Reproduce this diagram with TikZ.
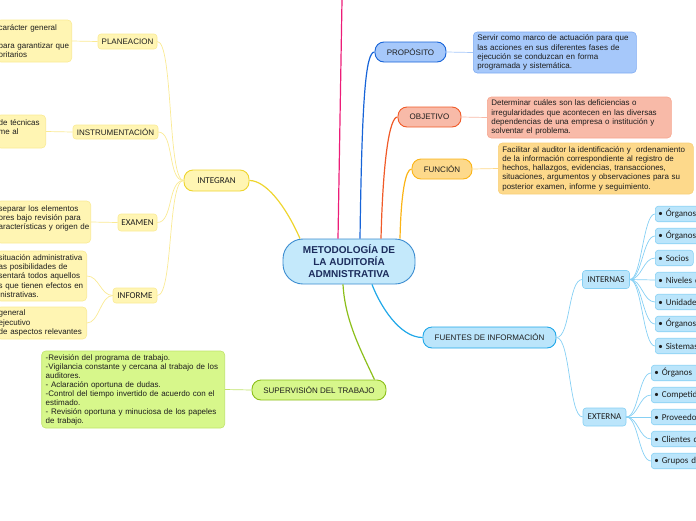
\documentclass[tikz,border=0pt]{standalone}
\usepackage{fontspec}
\setmainfont{Liberation Sans}
\newfontfamily\carlito{Carlito}

% colores del mapa
\definecolor{centrofill}{HTML}{C4E9FB}
\definecolor{centrodraw}{HTML}{3B8CD0}
\definecolor{rosa}{HTML}{EC1C78}
\definecolor{azul}{HTML}{1764D8}
\definecolor{azulfill}{HTML}{A6C8FA}
\definecolor{azulclaro}{HTML}{7EABF2}
\definecolor{naranja}{HTML}{F05A28}
\definecolor{naranjafill}{HTML}{F8BAA8}
\definecolor{naranjaclaro}{HTML}{F6A58E}
\definecolor{oro}{HTML}{FBB416}
\definecolor{orofill}{HTML}{FDD98B}
\definecolor{oroclaro}{HTML}{F8CF78}
\definecolor{amarillo}{HTML}{EED52E}
\definecolor{amarillofill}{HTML}{FFF5B3}
\definecolor{amarilloclaro}{HTML}{FAEA94}
\definecolor{verde}{HTML}{8CBF1A}
\definecolor{verdefill}{HTML}{D7F78B}
\definecolor{verdeclaro}{HTML}{C0E46A}
\definecolor{celeste}{HTML}{1FA7E8}
\definecolor{celestefill}{HTML}{BBE5FB}
\definecolor{celesteclaro}{HTML}{86D0F4}
\definecolor{texto}{HTML}{1E1E1E}
\definecolor{titulo}{HTML}{1B2C5C}

\begin{document}
\begin{tikzpicture}[x=1pt, y=-1pt, text=texto,
    rama/.style={draw, rounded corners=9pt, line width=0.9pt, inner sep=0pt, minimum height=20pt, font=\fontsize{8}{9.6}\selectfont},
    hoja/.style={draw, rounded corners=4pt, line width=0.6pt, align=left, inner xsep=4pt, inner ysep=2pt, font=\fontsize{8}{9.2}\selectfont},
    corte/.style={hoja, anchor=east, inner xsep=2pt, draw=amarilloclaro, fill=amarillofill},
    sub/.style={draw, rounded corners=3pt, line width=0.6pt, inner sep=0pt, font=\fontsize{8}{9.6}\selectfont},
    punto/.style={sub, anchor=west, align=left, inner xsep=3pt, minimum height=15.5pt, draw=celesteclaro, fill=celestefill, font=\carlito\fontsize{9}{10}\selectfont},
    enlace/.style={line width=1.2pt},
    fino/.style={line width=0.7pt}]
    \useasboundingbox (0,0) rectangle (696,520);
    \clip (0,0) rectangle (696,520);

    % nodo central
    \node[draw=centrodraw, fill=centrofill, rounded corners=20pt, line width=0.9pt, minimum width=132pt, minimum height=45pt, align=center, text=titulo, font=\bfseries\fontsize{10}{12}\selectfont] (centro) at (349,261.5) {METODOLOGÍA DE\\LA AUDITORÍA\\ADMNISTRATIVA};
    \coordinate (arriba) at (342,0);

    % ramas de la derecha
    \node[rama, draw=azul, fill=azulfill, minimum width=71pt] (proposito) at (410.5,52) {PROPÓSITO};
    \node[hoja, draw=azulclaro, fill=azulfill, anchor=west, text width=155pt, minimum height=41pt] (txtproposito) at (473,52.5) {Servir como marco de actuación para que\\las acciones en sus diferentes fases de\\ejecución se conduzcan en forma\\programada y sistemática.};

    \node[rama, draw=naranja, fill=naranjafill, minimum width=63pt] (objetivo) at (429.5,117) {OBJETIVO};
    \node[hoja, draw=naranjaclaro, fill=naranjafill, anchor=west, text width=176pt, minimum height=41pt] (txtobjetivo) at (487,117.5) {Determinar cuáles son las deficiencias o\\irregularidades que acontecen en las diversas\\dependencias de una empresa o institución y\\solventar el problema.};

    \node[rama, draw=oro, fill=orofill, minimum width=60pt] (funcion) at (442,169) {FUNCIÓN};
    \node[hoja, draw=oroclaro, fill=orofill, anchor=west, text width=187pt, minimum height=51pt] (txtfuncion) at (498,168.5) {Facilitar al auditor la identificación y\ \ ordenamiento\\de la información correspondiente al registro de\\hechos, hallazgos, evidencias, transacciones,\\situaciones, argumentos y observaciones para su\\posterior examen, informe y seguimiento.};

    \node[rama, draw=celeste, fill=celestefill, minimum width=133pt, minimum height=21pt] (fuentes) at (489.5,337.5) {FUENTES DE INFORMACIÓN};
    \node[sub, draw=celesteclaro, fill=celestefill, minimum width=47pt, minimum height=18pt, font=\carlito\fontsize{9}{10}\selectfont] (internas) at (606,279.5) {INTERNAS};
    \node[sub, draw=celesteclaro, fill=celestefill, minimum width=43pt, minimum height=18pt, font=\carlito\fontsize{9}{10}\selectfont] (externa) at (604.5,417) {EXTERNA};

    \node[punto, text width=60pt] (organosa) at (655,214) {• Órganos};
    \node[punto, text width=60pt] (organosb) at (655,236) {• Órganos};
    \node[punto, text width=32pt] (socios) at (655,258) {• Socios};
    \node[punto, text width=60pt] (niveles) at (655,280) {• Niveles d};
    \node[punto, text width=60pt] (unidades) at (655,302) {• Unidade};
    \node[punto, text width=60pt] (organosc) at (655,324) {• Órganos};
    \node[punto, text width=60pt] (sistemas) at (655,346) {• Sistemas};

    \node[punto, text width=60pt] (organosd) at (651,373) {• Órganos};
    \node[punto, text width=60pt] (competidores) at (651,395) {• Competid};
    \node[punto, text width=60pt] (proveedores) at (651,417) {• Proveedo};
    \node[punto, text width=60pt] (clientes) at (651,439) {• Clientes d};
    \node[punto, text width=60pt] (grupos) at (651,461) {• Grupos d};

    % ramas de la izquierda
    \node[rama, draw=amarillo, fill=amarillofill, minimum width=65pt, minimum height=21pt, font=\carlito\fontsize{9}{10}\selectfont] (integran) at (216.5,180.5) {INTEGRAN};

    \node[sub, draw=amarilloclaro, fill=amarillofill, minimum width=59pt, minimum height=15pt] (planeacion) at (127.5,41.5) {PLANEACION};
    \node[corte, text width=71pt, minimum height=42pt] (txtplaneacion) at (72,41) {carácter general\\ \mbox{}\\ para garantizar que\\ oritarios};

    \node[sub, draw=amarilloclaro, fill=amarillofill, minimum width=85pt, minimum height=14pt] (instrumentacion) at (115.5,132) {INSTRUMENTACIÓN};
    \node[corte, text width=45pt, minimum height=33pt] (txtinstrumentacion) at (46,131.5) {de técnicas\\ me al\\ \mbox{}};

    \node[sub, draw=amarilloclaro, fill=amarillofill, minimum width=39pt, minimum height=17pt, font=\carlito\fontsize{9}{10}\selectfont] (examen) at (137.5,222.5) {EXAMEN};
    \node[corte, text width=90pt, minimum height=42pt] (txtexamen) at (91,222) {separar los elementos\\ ores bajo revisión para\\ \mbox{aracterísticas y origen de}\\ \mbox{}};

    \node[sub, draw=amarilloclaro, fill=amarillofill, minimum width=44pt, minimum height=15pt, font=\carlito\fontsize{9}{10}\selectfont] (informe) at (135,295.5) {INFORME};
    \node[corte, text width=86pt, minimum height=50pt] (txtinforme) at (87,276) {situación administrativa\\ as posibilidades de\\ sentará todos aquellos\\ s que tienen efectos en\\ inistrativas.};
    \node[corte, text width=86pt, minimum height=32pt] (txtinformeb) at (87,323) {general\\ ejecutivo\\ de aspectos relevantes};

    \node[rama, draw=verde, fill=verdefill, minimum width=134pt] (supervision) at (319,390) {SUPERVISIÓN DEL TRABAJO};
    \node[hoja, draw=verdeclaro, fill=verdefill, anchor=east, text width=175pt, minimum height=77pt, font=\fontsize{8}{9}\selectfont] (txtsupervision) at (225,389.5) {-Revisión del programa de trabajo.\\-Vigilancia constante y cercana al trabajo de los\\auditores.\\- Aclaración oportuna de dudas.\\-Control del tiempo invertido de acuerdo con el\\estimado.\\- Revisión oportuna y minuciosa de los papeles\\de trabajo.};

    % enlaces desde el centro
    \draw[enlace, rosa] ([xshift=-11pt]centro.north) -- (arriba);
    \draw[enlace, azul] ([xshift=11pt]centro.north) .. controls +(2,-140) and +(-9,0) .. (proposito.west);
    \draw[enlace, naranja] ([xshift=32pt]centro.north) .. controls +(2,-80) and +(-8,0) .. (objetivo.west);
    \draw[enlace, oro] ([xshift=51pt]centro.north) .. controls +(1,-45) and +(-6,0) .. (funcion.west);
    \draw[enlace, amarillo] ([xshift=-49pt]centro.north) .. controls +(-15,-34) and +(16,0) .. (integran.east);
    \draw[enlace, verde] ([xshift=-6pt]centro.south) .. controls +(2,36) and +(-14,-30) .. ([xshift=-12pt]supervision.north east);
    \draw[enlace, celeste] ([xshift=23pt]centro.south) .. controls +(8,21) and +(-23,0) .. (fuentes.west);

    % enlaces secundarios
    \draw[fino, azulfill] (proposito.east) -- (txtproposito.west);
    \draw[fino, naranjafill] (objetivo.east) -- (txtobjetivo.west);
    \draw[fino, orofill] (funcion.east) -- (txtfuncion.west);
    \draw[fino, verdeclaro] (supervision.west) -- (txtsupervision.east);

    \draw[fino, celesteclaro] (fuentes.east) .. controls +(14,0) and +(-14,0) .. (internas.west);
    \draw[fino, celesteclaro] (fuentes.east) .. controls +(14,0) and +(-14,0) .. (externa.west);
    \draw[fino, celesteclaro] (internas.east) .. controls +(12,0) and +(-12,0) .. (organosa.west);
    \draw[fino, celesteclaro] (internas.east) .. controls +(12,0) and +(-12,0) .. (organosb.west);
    \draw[fino, celesteclaro] (internas.east) .. controls +(12,0) and +(-12,0) .. (socios.west);
    \draw[fino, celesteclaro] (internas.east) .. controls +(12,0) and +(-12,0) .. (niveles.west);
    \draw[fino, celesteclaro] (internas.east) .. controls +(12,0) and +(-12,0) .. (unidades.west);
    \draw[fino, celesteclaro] (internas.east) .. controls +(12,0) and +(-12,0) .. (organosc.west);
    \draw[fino, celesteclaro] (internas.east) .. controls +(12,0) and +(-12,0) .. (sistemas.west);
    \draw[fino, celesteclaro] (externa.east) .. controls +(12,0) and +(-12,0) .. (organosd.west);
    \draw[fino, celesteclaro] (externa.east) .. controls +(12,0) and +(-12,0) .. (competidores.west);
    \draw[fino, celesteclaro] (externa.east) .. controls +(12,0) and +(-12,0) .. (proveedores.west);
    \draw[fino, celesteclaro] (externa.east) .. controls +(12,0) and +(-12,0) .. (clientes.west);
    \draw[fino, celesteclaro] (externa.east) .. controls +(12,0) and +(-12,0) .. (grupos.west);

    \draw[fino, amarilloclaro] (integran.west) .. controls +(-16,0) and +(16,0) .. (planeacion.east);
    \draw[fino, amarilloclaro] (integran.west) .. controls +(-16,0) and +(16,0) .. (instrumentacion.east);
    \draw[fino, amarilloclaro] (integran.west) .. controls +(-16,0) and +(16,0) .. (examen.east);
    \draw[fino, amarilloclaro] (integran.west) .. controls +(-16,0) and +(16,0) .. (informe.east);
    \draw[fino, amarilloclaro] (planeacion.west) -- (txtplaneacion.east);
    \draw[fino, amarilloclaro] (instrumentacion.west) -- (txtinstrumentacion.east);
    \draw[fino, amarilloclaro] (examen.west) -- (txtexamen.east);
    \draw[fino, amarilloclaro] (informe.west) .. controls +(-12,0) and +(12,0) .. (txtinforme.east);
    \draw[fino, amarilloclaro] (informe.west) .. controls +(-12,0) and +(12,0) .. (txtinformeb.east);
\end{tikzpicture}
\end{document}
